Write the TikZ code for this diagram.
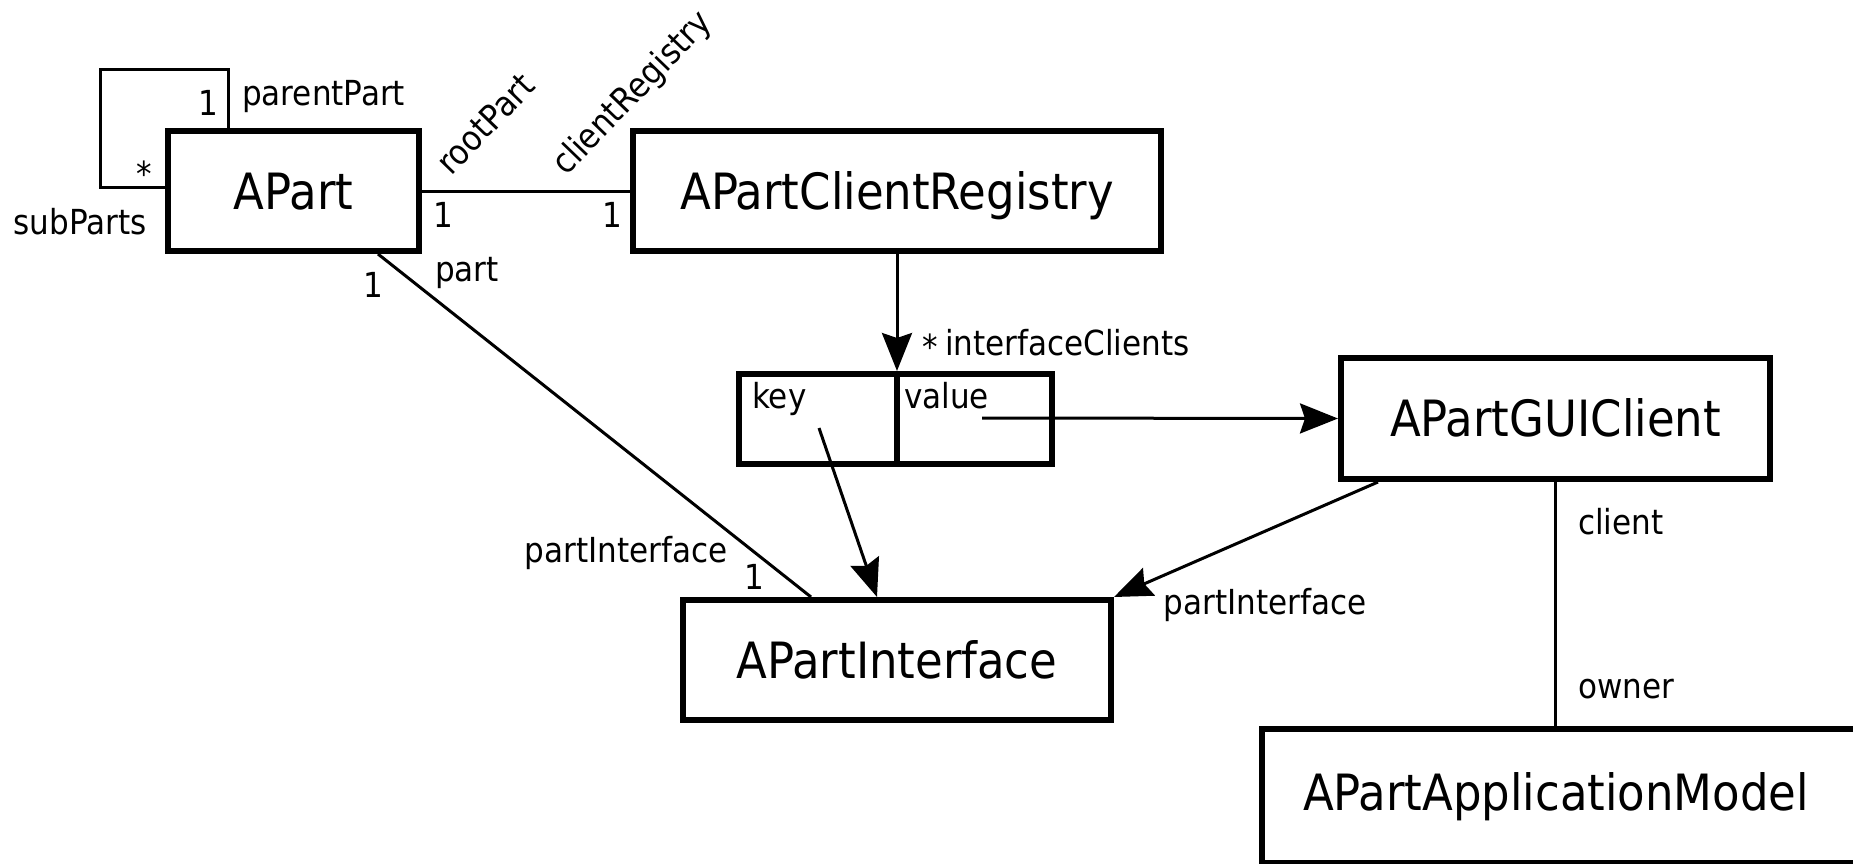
\documentclass[tikz,border=0pt]{standalone}
\usepackage{fontspec}
\setmainfont{DejaVu Sans Condensed}
\usetikzlibrary{arrows.meta,calc}
\begin{document}
\begin{tikzpicture}[x=1pt,y=-1pt,
  classbox/.style={draw, line width=6pt, inner sep=0pt, text height=36pt, text depth=0pt,
              font=\fontsize{50}{60}\selectfont},
  classname/.style={inner sep=0pt, text height=36pt, text depth=0pt,
              font=\fontsize{50}{60}\selectfont},
  cell/.style={draw, line width=6pt, inner sep=0pt},
  lbl/.style={inner sep=0pt, font=\fontsize{34.5}{40}\selectfont},
  conn/.style={line width=3pt},
  nav/.style={conn, -{Stealth[length=38pt,width=30pt,inset=5pt]}},
]
\useasboundingbox (0,0) rectangle (1853,863);

% classes
\node[classbox, minimum width=251pt, minimum height=120pt] (apart) at (293.5,191) {APart};
\node[classbox, minimum width=528pt, minimum height=120pt] (reg) at (897,191) {APartClientRegistry};
\node[classbox, minimum width=429pt, minimum height=121pt] (gui) at (1555.5,418.5) {APartGUIClient};
\node[classbox, minimum width=428pt, minimum height=120pt] (iface) at (897,660) {APartInterface};
\node[classbox, minimum width=700pt, minimum height=134pt, anchor=north west] (model) at (1259,726) {};
\node[classname] (modeltext) at (1556,792) {APartApplicationModel};

% map entry with key and value cells sharing one divider
\node[cell, minimum width=158pt, minimum height=90pt] (key) at (818,419) {};
\node[cell, minimum width=155pt, minimum height=90pt] (value) at (974.5,419) {};
\node[lbl, anchor=north west] (keytext) at ([xshift=16pt,yshift=-11pt]key.north west) {key};
\node[lbl, anchor=north west] (valuetext) at ([xshift=10pt,yshift=-11pt]value.north west) {value};
\coordinate (keyend) at (819,428);
\coordinate (valueend) at (982,418);

% self association
\draw[conn] ([xshift=63pt]apart.north west) -- ++(0,-59) -- ++(-128,0) -- ++(0,118)
  -- ([yshift=4pt]apart.west);
\node[lbl] (m1) at (208,103) {1};
\node[lbl, anchor=west] (parentPart) at (242,97) {parentPart};
\node[lbl] (m2) at (144,174) {*};
\node[lbl] (subParts) at (80,222) {subParts};

% APart -- registry
\draw[conn] (apart.east) -- (reg.west);
\node[lbl, rotate=46, anchor=base west] (rootPart) at (451,177) {rootPart};
\node[lbl, rotate=46, anchor=base west] (clientRegistry) at (566,177) {clientRegistry};
\node[lbl] (m3) at (443,215) {1};
\node[lbl] (m4) at (612,215) {1};

% registry -> map
\draw[nav] (reg.south) -- (reg.south |- value.north);
\node[lbl] (m5) at (930,347) {*};
\node[lbl, anchor=west] (interfaceClients) at (945,343) {interfaceClients};

% map -> classes
\draw[nav] (valueend) -- (gui.west);
\draw[nav] (keyend) -- ([xshift=-20pt]iface.north);

% APart -- interface
\draw[conn] ([xshift=-44pt]apart.south east) -- ([xshift=131pt]iface.north west);
\node[lbl] (m6) at (373,285) {1};
\node[lbl] (part) at (467,273) {part};
\node[lbl] (pi1) at (626,553) {partInterface};
\node[lbl] (m7) at (754,577) {1};

% GUI client -> interface
\draw[nav] ([xshift=40pt]gui.south west) -- (iface.north east);
\node[lbl] (pi2) at (1265,605) {partInterface};

% GUI client -- application model
\draw[conn] (gui.south) -- (gui.south |- model.north);
\node[lbl, anchor=west] (client) at (1578,522) {client};
\node[lbl, anchor=west] (owner) at (1578,689) {owner};
\end{tikzpicture}
\end{document}
